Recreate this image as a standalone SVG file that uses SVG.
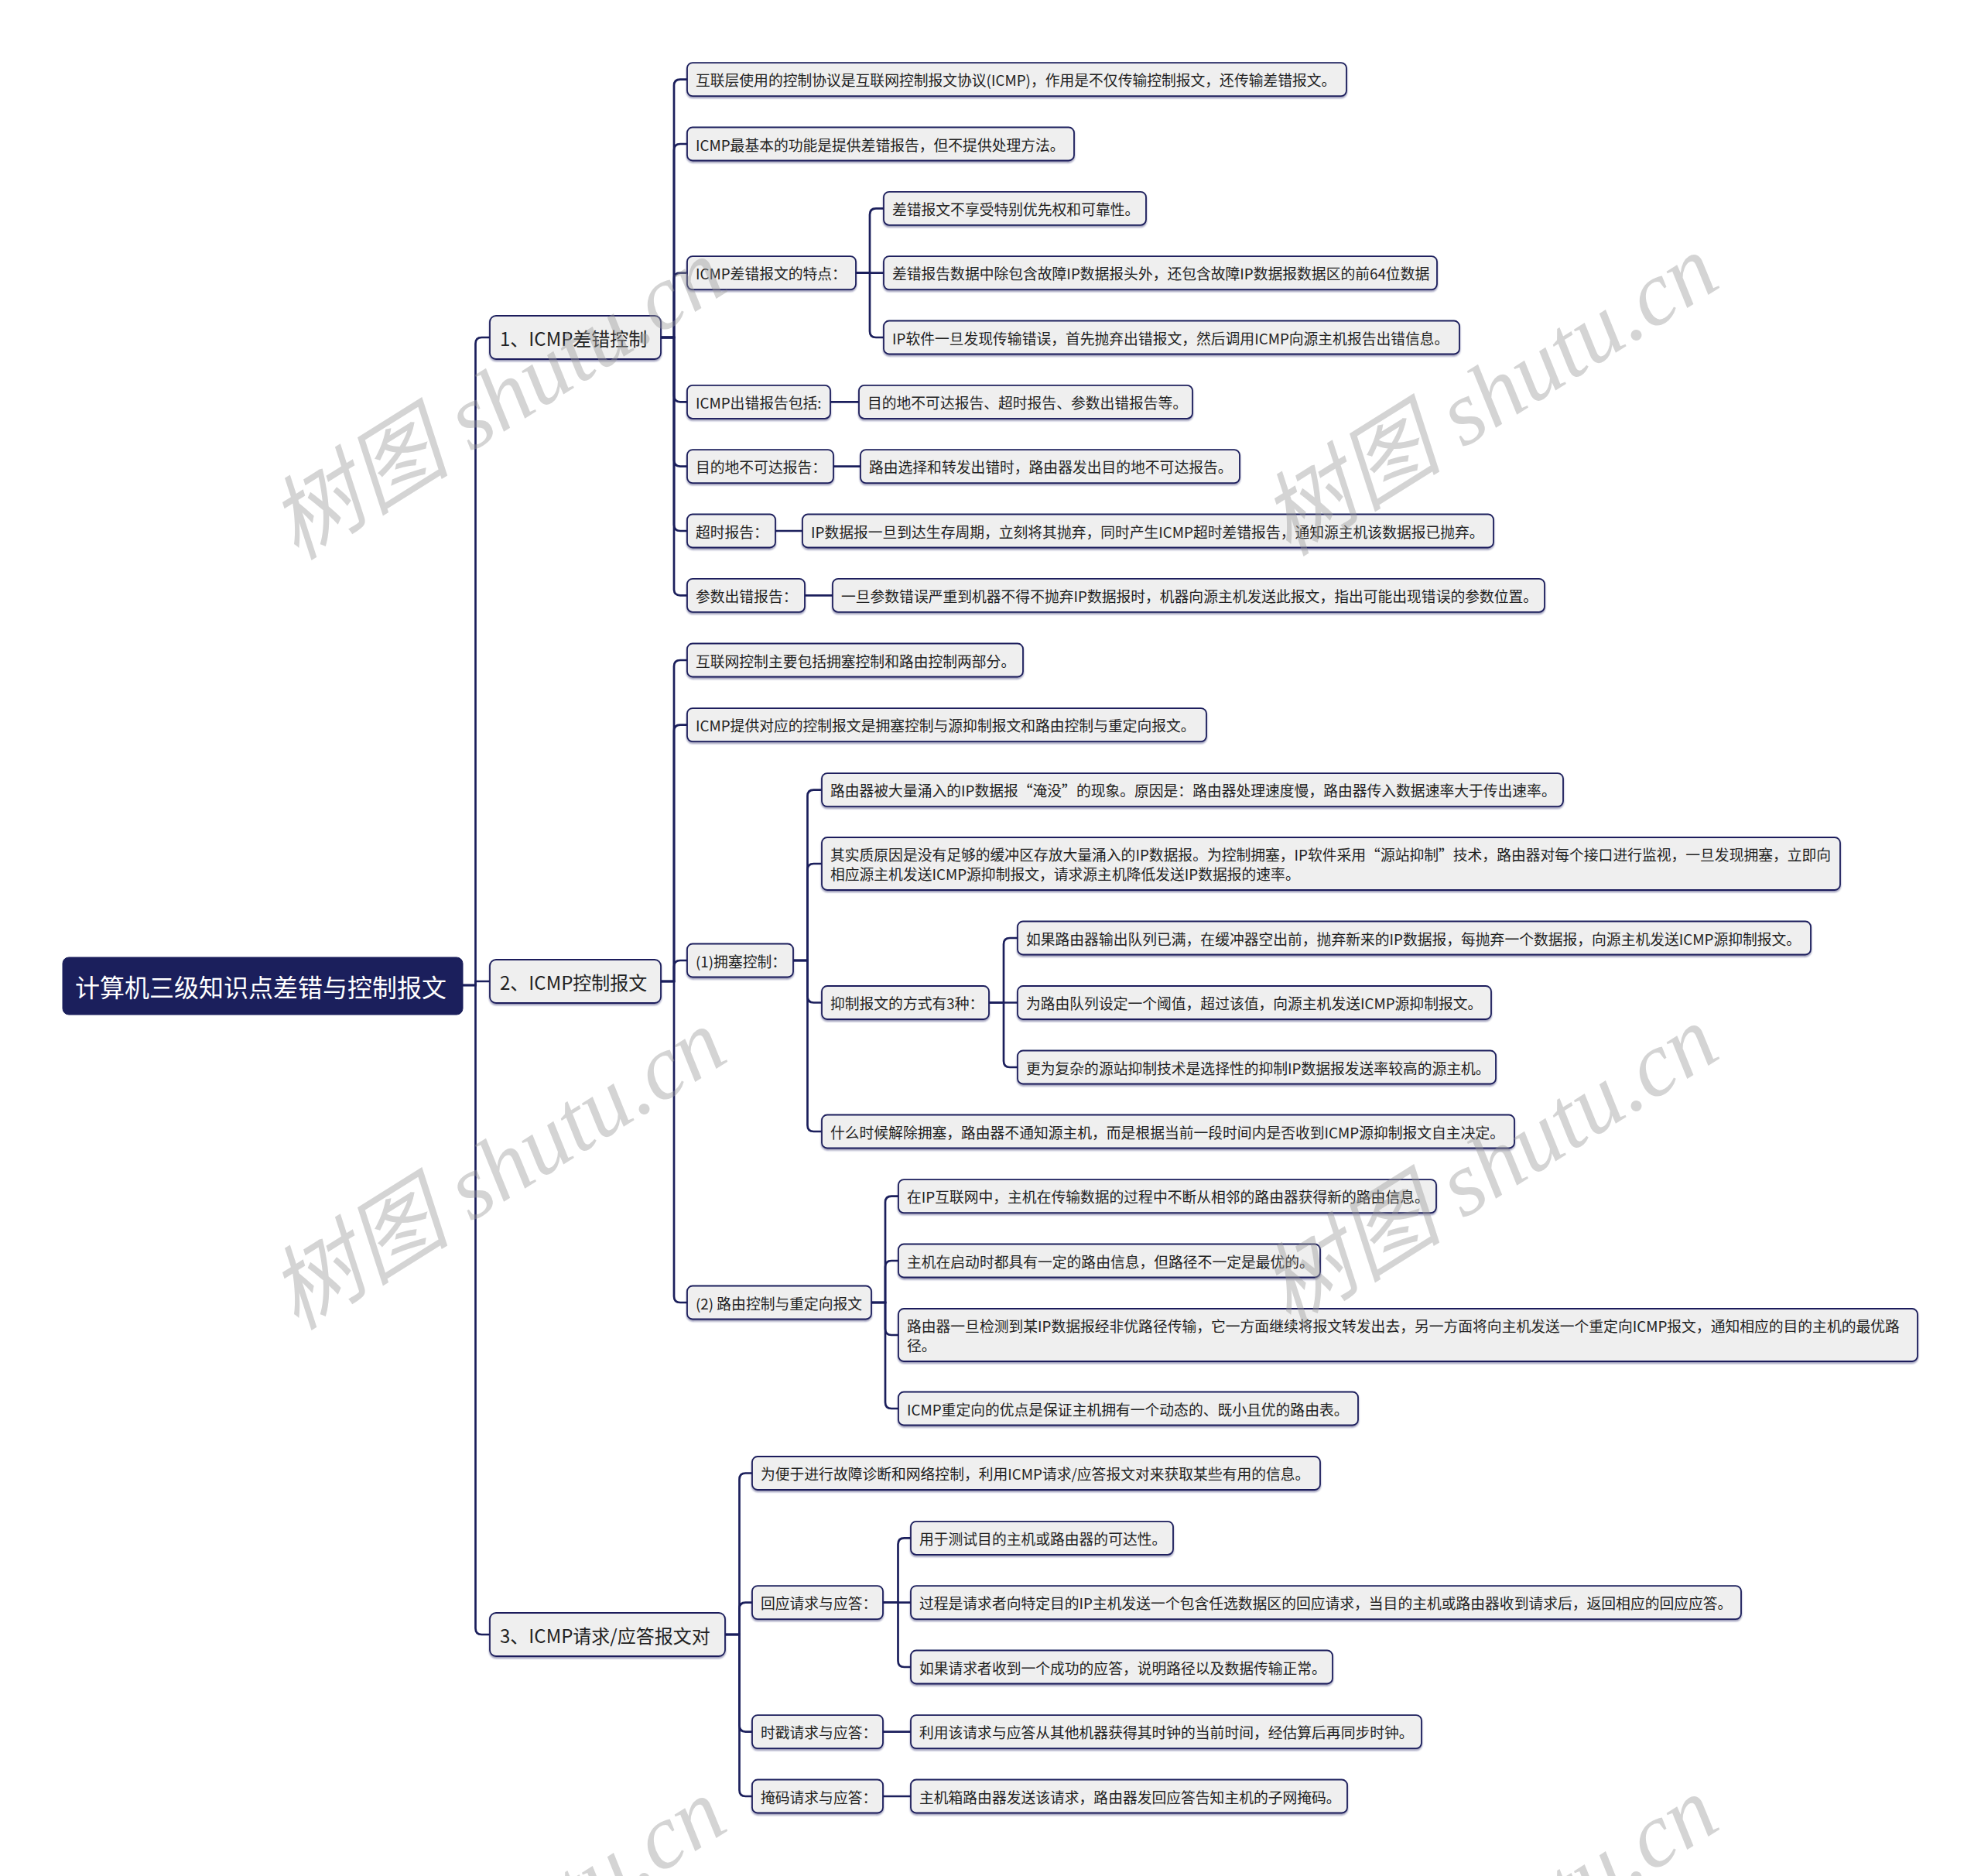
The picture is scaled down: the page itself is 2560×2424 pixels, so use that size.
<svg xmlns="http://www.w3.org/2000/svg" width="2560" height="2424" viewBox="0 0 2560 2424">
<defs>
<filter id="sh" x="-5%" y="-30%" width="110%" height="170%">
<feDropShadow dx="0" dy="2" stdDeviation="0.8" flood-color="#1b1f5c" flood-opacity="0.45"/>
</filter>
<style>
.box{fill:#efefef;stroke:#1b1f5c;stroke-width:1.8;filter:url(#sh)}
.root{fill:#1b1f5c;stroke:#1b1f5c;stroke-width:1}
.t{font-family:"Noto Sans CJK SC","Microsoft YaHei",sans-serif;font-size:18.8px;fill:#222;dominant-baseline:central}
.t1{font-size:24px}
.rt{font-size:32px;fill:#ffffff}
.wm{font-family:"Liberation Serif","Noto Sans CJK SC",serif;font-style:italic;font-size:118px;fill:#9a9a9a;opacity:0.42}
</style>
</defs>
<rect width="2560" height="2424" fill="#ffffff"/>

<g id="connectors" fill="none" stroke="#1b1f5c" stroke-width="2.7">
<path d="M598,1273 H614.5 V444 Q614.5,436 622.5,436 H633"/>
<path d="M598,1273 H614.5 V1268 H633"/>
<path d="M598,1273 H614.5 V2104 Q614.5,2112 622.5,2112 H633"/>

<path d="M854,436 H871 V110.6 Q871,102.6 879,102.6 H888"/>
<path d="M854,436 H871 V194 Q871,186 879,186 H888"/>
<path d="M854,436 H871 V360.6 Q871,352.6 879,352.6 H888"/>
<path d="M854,436 H871 V511.3 Q871,519.3 879,519.3 H888"/>
<path d="M854,436 H871 V594.6 Q871,602.6 879,602.6 H888"/>
<path d="M854,436 H871 V678 Q871,686 879,686 H888"/>
<path d="M854,436 H871 V761.3 Q871,769.3 879,769.3 H888"/>

<path d="M1106,352.6 H1124 V277.3 Q1124,269.3 1132,269.3 H1142"/>
<path d="M1106,352.6 H1142"/>
<path d="M1106,352.6 H1124 V428 Q1124,436 1132,436 H1142"/>

<path d="M1073,519.3 H1110"/>
<path d="M1077,602.6 H1112"/>
<path d="M1002,686 H1037"/>
<path d="M1040,769.3 H1076"/>

<path d="M854,1268 H871 V861 Q871,853 879,853 H888"/>
<path d="M854,1268 H871 V944.6 Q871,936.6 879,936.6 H888"/>
<path d="M854,1268 H871 V1249 Q871,1241 879,1241 H888"/>
<path d="M854,1268 H871 V1675 Q871,1683 879,1683 H888"/>

<path d="M1025,1241 H1043.5 V1028.6 Q1043.5,1020.6 1051.5,1020.6 H1062"/>
<path d="M1025,1241 H1043.5 V1124 Q1043.5,1116 1051.5,1116 H1062"/>
<path d="M1025,1241 H1043.5 V1287.5 Q1043.5,1295.5 1051.5,1295.5 H1062"/>
<path d="M1025,1241 H1043.5 V1454 Q1043.5,1462 1051.5,1462 H1062"/>

<path d="M1278,1295.5 H1297 V1220 Q1297,1212 1305,1212 H1315"/>
<path d="M1278,1295.5 H1315"/>
<path d="M1278,1295.5 H1297 V1371 Q1297,1379 1305,1379 H1315"/>

<path d="M1126,1683 H1144 V1553.6 Q1144,1545.6 1152,1545.6 H1161"/>
<path d="M1126,1683 H1144 V1637 Q1144,1629 1152,1629 H1161"/>
<path d="M1126,1683 H1144 V1717 Q1144,1725 1152,1725 H1161"/>
<path d="M1126,1683 H1144 V1812 Q1144,1820 1152,1820 H1161"/>

<path d="M937,2112 H955.5 V1911.5 Q955.5,1903.5 963.5,1903.5 H972"/>
<path d="M937,2112 H955.5 V2078.6 Q955.5,2070.6 963.5,2070.6 H972"/>
<path d="M937,2112 H955.5 V2229.6 Q955.5,2237.6 963.5,2237.6 H972"/>
<path d="M937,2112 H955.5 V2313 Q955.5,2321 963.5,2321 H972"/>

<path d="M1141,2070.6 H1160.5 V1995.3 Q1160.5,1987.3 1168.5,1987.3 H1177"/>
<path d="M1141,2070.6 H1177"/>
<path d="M1141,2070.6 H1160.5 V2146 Q1160.5,2154 1168.5,2154 H1177"/>

<path d="M1141,2237.6 H1177"/>
<path d="M1141,2321 H1177"/>
</g>

<g id="root"><rect class="root" x="81" y="1237" width="517" height="74" rx="8"/><text class="t rt" x="97" y="1274">计算机三级知识点差错与控制报文</text></g>

<g id="n1"><rect class="box" x="633" y="408" width="221" height="56" rx="8"/><text class="t t1" x="646" y="436">1、ICMP差错控制</text></g>
<g id="n2"><rect class="box" x="633" y="1240" width="221" height="56" rx="8"/><text class="t t1" x="646" y="1268">2、ICMP控制报文</text></g>
<g id="n3"><rect class="box" x="633" y="2084" width="304" height="56" rx="8"/><text class="t t1" x="646" y="2112">3、ICMP请求/应答报文对</text></g>

<g id="a1"><rect class="box" x="888" y="81.1" width="852" height="43" rx="7"/><text class="t" x="899" y="102.6">互联层使用的控制协议是互联网控制报文协议(ICMP)，作用是不仅传输控制报文，还传输差错报文。</text></g>
<g id="a2"><rect class="box" x="888" y="164.5" width="500" height="43" rx="7"/><text class="t" x="899" y="186">ICMP最基本的功能是提供差错报告，但不提供处理方法。</text></g>
<g id="a3"><rect class="box" x="888" y="331.1" width="218" height="43" rx="7"/><text class="t" x="899" y="352.6">ICMP差错报文的特点：</text></g>
<g id="a3-1"><rect class="box" x="1142" y="247.8" width="339" height="43" rx="7"/><text class="t" x="1153" y="269.3">差错报文不享受特别优先权和可靠性。</text></g>
<g id="a3-2"><rect class="box" x="1142" y="331.1" width="715" height="43" rx="7"/><text class="t" x="1153" y="352.6">差错报告数据中除包含故障IP数据报头外，还包含故障IP数据报数据区的前64位数据</text></g>
<g id="a3-3"><rect class="box" x="1142" y="414.5" width="744" height="43" rx="7"/><text class="t" x="1153" y="436">IP软件一旦发现传输错误，首先抛弃出错报文，然后调用ICMP向源主机报告出错信息。</text></g>
<g id="a4"><rect class="box" x="888" y="497.8" width="185" height="43" rx="7"/><text class="t" x="899" y="519.3">ICMP出错报告包括:</text></g>
<g id="a4-1"><rect class="box" x="1110" y="497.8" width="431" height="43" rx="7"/><text class="t" x="1121" y="519.3">目的地不可达报告、超时报告、参数出错报告等。</text></g>
<g id="a5"><rect class="box" x="888" y="581.1" width="189" height="43" rx="7"/><text class="t" x="899" y="602.6">目的地不可达报告：</text></g>
<g id="a5-1"><rect class="box" x="1112" y="581.1" width="490" height="43" rx="7"/><text class="t" x="1123" y="602.6">路由选择和转发出错时，路由器发出目的地不可达报告。</text></g>
<g id="a6"><rect class="box" x="888" y="664.5" width="114" height="43" rx="7"/><text class="t" x="899" y="686">超时报告：</text></g>
<g id="a6-1"><rect class="box" x="1037" y="664.5" width="893" height="43" rx="7"/><text class="t" x="1048" y="686">IP数据报一旦到达生存周期，立刻将其抛弃，同时产生ICMP超时差错报告，通知源主机该数据报已抛弃。</text></g>
<g id="a7"><rect class="box" x="888" y="747.8" width="152" height="43" rx="7"/><text class="t" x="899" y="769.3">参数出错报告：</text></g>
<g id="a7-1"><rect class="box" x="1076" y="747.8" width="920" height="43" rx="7"/><text class="t" x="1087" y="769.3">一旦参数错误严重到机器不得不抛弃IP数据报时，机器向源主机发送此报文，指出可能出现错误的参数位置。</text></g>

<g id="b1"><rect class="box" x="888" y="831.5" width="434" height="43" rx="7"/><text class="t" x="899" y="853">互联网控制主要包括拥塞控制和路由控制两部分。</text></g>
<g id="b2"><rect class="box" x="888" y="915.1" width="671" height="43" rx="7"/><text class="t" x="899" y="936.6">ICMP提供对应的控制报文是拥塞控制与源抑制报文和路由控制与重定向报文。</text></g>
<g id="b3"><rect class="box" x="888" y="1219.5" width="137" height="43" rx="7"/><text class="t" x="899" y="1241">(1)拥塞控制：</text></g>
<g id="b3-1"><rect class="box" x="1062" y="999.1" width="958" height="43" rx="7"/><text class="t" x="1073" y="1020.6">路由器被大量涌入的IP数据报“淹没”的现象。原因是：路由器处理速度慢，路由器传入数据速率大于传出速率。</text></g>
<g id="b3-2"><rect class="box" x="1062" y="1082" width="1316" height="68" rx="7"/><text class="t" x="1073" y="1103.5">其实质原因是没有足够的缓冲区存放大量涌入的IP数据报。为控制拥塞，IP软件采用“源站抑制”技术，路由器对每个接口进行监视，一旦发现拥塞，立即向</text><text class="t" x="1073" y="1128.5">相应源主机发送ICMP源抑制报文，请求源主机降低发送IP数据报的速率。</text></g>
<g id="b3-3"><rect class="box" x="1062" y="1274" width="216" height="43" rx="7"/><text class="t" x="1073" y="1295.5">抑制报文的方式有3种：</text></g>
<g id="b3-3-1"><rect class="box" x="1315" y="1190.5" width="1025" height="43" rx="7"/><text class="t" x="1326" y="1212">如果路由器输出队列已满，在缓冲器空出前，抛弃新来的IP数据报，每抛弃一个数据报，向源主机发送ICMP源抑制报文。</text></g>
<g id="b3-3-2"><rect class="box" x="1315" y="1274" width="612" height="43" rx="7"/><text class="t" x="1326" y="1295.5">为路由队列设定一个阈值，超过该值，向源主机发送ICMP源抑制报文。</text></g>
<g id="b3-3-3"><rect class="box" x="1315" y="1357.5" width="618" height="43" rx="7"/><text class="t" x="1326" y="1379">更为复杂的源站抑制技术是选择性的抑制IP数据报发送率较高的源主机。</text></g>
<g id="b3-4"><rect class="box" x="1062" y="1440.5" width="895" height="43" rx="7"/><text class="t" x="1073" y="1462">什么时候解除拥塞，路由器不通知源主机，而是根据当前一段时间内是否收到ICMP源抑制报文自主决定。</text></g>
<g id="b4"><rect class="box" x="888" y="1661.5" width="238" height="43" rx="7"/><text class="t" x="899" y="1683">(2) 路由控制与重定向报文</text></g>
<g id="b4-1"><rect class="box" x="1161" y="1524.1" width="695" height="43" rx="7"/><text class="t" x="1172" y="1545.6">在IP互联网中，主机在传输数据的过程中不断从相邻的路由器获得新的路由信息。</text></g>
<g id="b4-2"><rect class="box" x="1161" y="1607.5" width="545" height="43" rx="7"/><text class="t" x="1172" y="1629">主机在启动时都具有一定的路由信息，但路径不一定是最优的。</text></g>
<g id="b4-3"><rect class="box" x="1161" y="1691" width="1317" height="68" rx="7"/><text class="t" x="1172" y="1712.5">路由器一旦检测到某IP数据报经非优路径传输，它一方面继续将报文转发出去，另一方面将向主机发送一个重定向ICMP报文，通知相应的目的主机的最优路</text><text class="t" x="1172" y="1737.5">径。</text></g>
<g id="b4-4"><rect class="box" x="1161" y="1798.5" width="594" height="43" rx="7"/><text class="t" x="1172" y="1820">ICMP重定向的优点是保证主机拥有一个动态的、既小且优的路由表。</text></g>

<g id="d1"><rect class="box" x="972" y="1882" width="734" height="43" rx="7"/><text class="t" x="983" y="1903.5">为便于进行故障诊断和网络控制，利用ICMP请求/应答报文对来获取某些有用的信息。</text></g>
<g id="d2"><rect class="box" x="972" y="2049.1" width="169" height="43" rx="7"/><text class="t" x="983" y="2070.6">回应请求与应答：</text></g>
<g id="d2-1"><rect class="box" x="1177" y="1965.8" width="339" height="43" rx="7"/><text class="t" x="1188" y="1987.3">用于测试目的主机或路由器的可达性。</text></g>
<g id="d2-2"><rect class="box" x="1177" y="2049.1" width="1073" height="43" rx="7"/><text class="t" x="1188" y="2070.6">过程是请求者向特定目的IP主机发送一个包含任选数据区的回应请求，当目的主机或路由器收到请求后，返回相应的回应应答。</text></g>
<g id="d2-3"><rect class="box" x="1177" y="2132.5" width="545" height="43" rx="7"/><text class="t" x="1188" y="2154">如果请求者收到一个成功的应答，说明路径以及数据传输正常。</text></g>
<g id="d3"><rect class="box" x="972" y="2216.1" width="169" height="43" rx="7"/><text class="t" x="983" y="2237.6">时戳请求与应答：</text></g>
<g id="d3-1"><rect class="box" x="1177" y="2216.1" width="660" height="43" rx="7"/><text class="t" x="1188" y="2237.6">利用该请求与应答从其他机器获得其时钟的当前时间，经估算后再同步时钟。</text></g>
<g id="d4"><rect class="box" x="972" y="2299.5" width="169" height="43" rx="7"/><text class="t" x="983" y="2321">掩码请求与应答：</text></g>
<g id="d4-1"><rect class="box" x="1177" y="2299.5" width="564" height="43" rx="7"/><text class="t" x="1188" y="2321">主机箱路由器发送该请求，路由器发回应答告知主机的子网掩码。</text></g>

<g id="watermarks">
<text class="wm" x="645" y="555" text-anchor="middle" transform="rotate(-32 645 519)">树图 shutu.cn</text>
<text class="wm" x="1927" y="550" text-anchor="middle" transform="rotate(-32 1927 514)">树图 shutu.cn</text>
<text class="wm" x="645" y="1550" text-anchor="middle" transform="rotate(-32 645 1514)">树图 shutu.cn</text>
<text class="wm" x="1927" y="1546" text-anchor="middle" transform="rotate(-32 1927 1510)">树图 shutu.cn</text>
<text class="wm" x="645" y="2544" text-anchor="middle" transform="rotate(-32 645 2508)">树图 shutu.cn</text>
<text class="wm" x="1927" y="2542" text-anchor="middle" transform="rotate(-32 1927 2506)">树图 shutu.cn</text>
</g>
</svg>
